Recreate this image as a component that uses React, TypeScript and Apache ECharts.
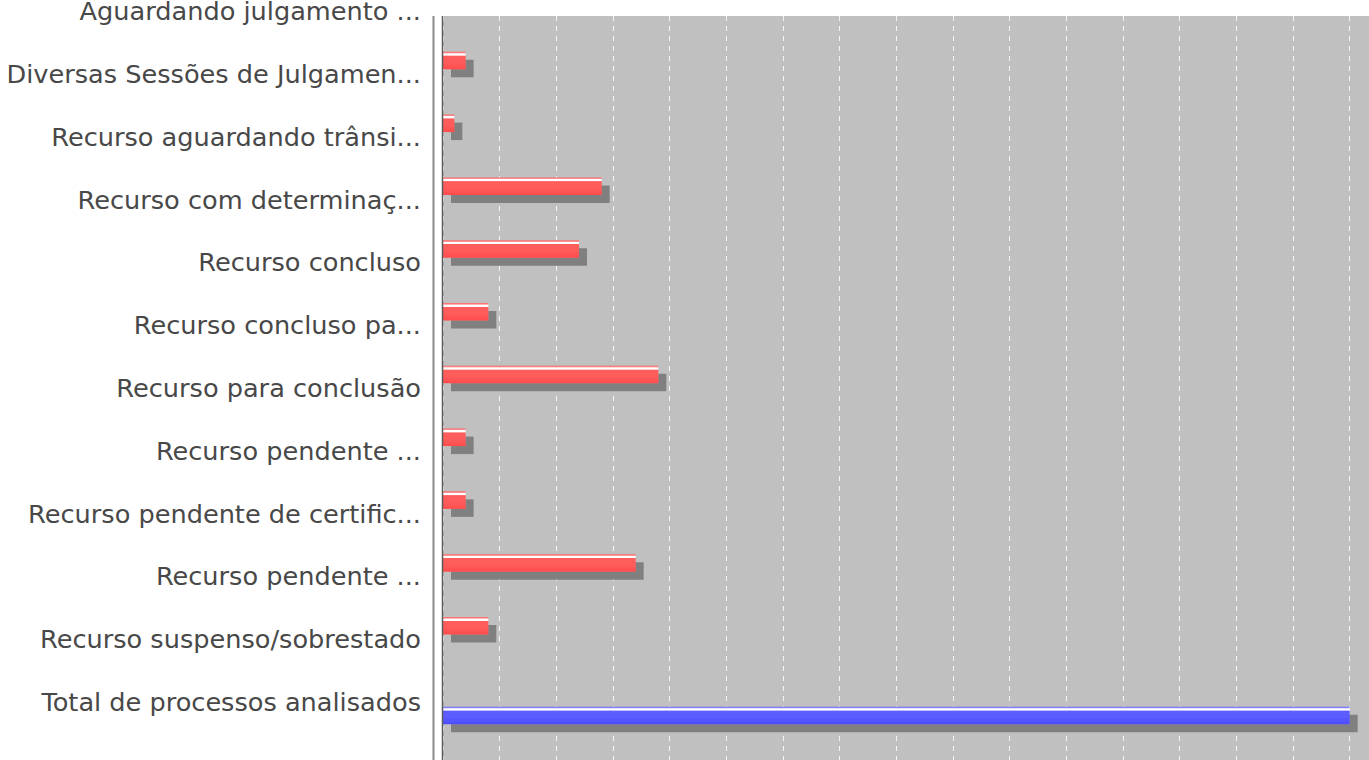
import React, { useEffect, useRef } from "react";
import * as echarts from "echarts";

const categories = [
  "Aguardando julgamento ...",
  "Diversas Sessões de Julgamen...",
  "Recurso aguardando trânsi...",
  "Recurso com determinaç...",
  "Recurso concluso",
  "Recurso concluso pa...",
  "Recurso para conclusão",
  "Recurso pendente ...",
  "Recurso pendente de certific...",
  "Recurso pendente ...",
  "Recurso suspenso/sobrestado",
  "Total de processos analisados",
];

const recursoValues: (number | null)[] = [1, 2, 1, 14, 12, 4, 19, 2, 2, 17, 4, null];
const totalValues: (number | null)[] = [null, null, null, null, null, null, null, null, null, null, null, 80];

const valueMax = 84;
const valueInterval = 5;

function grad(dark: string, mid: string, light: string) {
  return {
    type: "linear",
    x: 0,
    y: 0,
    x2: 0,
    y2: 1,
    colorStops: [
      { offset: 0, color: mid },
      { offset: 0.08, color: light },
      { offset: 0.11, color: "#ffffff" },
      { offset: 0.2, color: "#ffffff" },
      { offset: 0.24, color: mid },
      { offset: 0.6, color: mid },
      { offset: 1, color: dark },
    ],
  };
}

export default function App() {
  const ref = useRef<HTMLDivElement>(null);
  useEffect(() => {
    if (!ref.current) return;
    const chart = echarts.init(ref.current, null, { renderer: "svg" });
    const shadow = {
      shadowColor: "#808080",
      shadowOffsetX: 8,
      shadowOffsetY: 8,
      shadowBlur: 0,
    };
    chart.setOption({
      animation: false,
      backgroundColor: "#ffffff",
      grid: [
        {
          left: 443,
          right: -26,
          top: 16,
          bottom: -40,
          show: true,
          backgroundColor: "#c0c0c0",
          borderWidth: 0,
          containLabel: false,
          outerBoundsMode: "none",
        },
        {
          left: 443,
          right: -26,
          top: -20.2,
          height: 753.6,
          containLabel: false,
          outerBoundsMode: "none",
        },
      ],
      xAxis: [
        {
          gridIndex: 0,
          type: "value",
          min: 0,
          max: valueMax,
          interval: valueInterval,
          axisLabel: { show: false },
          axisLine: { show: false },
          axisTick: { show: false },
          splitLine: {
            show: true,
            lineStyle: { color: "#f4f4f4", width: 1, type: [5, 5] },
          },
        },
        {
          gridIndex: 1,
          type: "value",
          min: 0,
          max: valueMax,
          interval: valueInterval,
          axisLabel: { show: false },
          axisLine: { show: false },
          axisTick: { show: false },
          splitLine: { show: false },
        },
      ],
      yAxis: [
        {
          gridIndex: 0,
          type: "value",
          show: false,
          splitLine: { show: false },
        },
        {
          gridIndex: 1,
          type: "category",
          inverse: true,
          data: categories,
          axisLine: { show: false },
          axisTick: { show: false },
          splitLine: { show: false },
          axisLabel: {
            margin: 22,
            fontFamily: "DejaVu Sans",
            fontSize: 25.6,
            color: "#484848",
            interval: 0,
          },
        },
      ],
      series: [
        {
          name: "Recurso",
          type: "bar",
          xAxisIndex: 1,
          yAxisIndex: 1,
          data: recursoValues,
          barWidth: 17.5,
          barGap: "54%",
          itemStyle: { color: grad("#ff4c4c", "#ff5c5c", "#ff9a9a"), ...shadow },
        },
        {
          name: "Total",
          type: "bar",
          xAxisIndex: 1,
          yAxisIndex: 1,
          data: totalValues,
          barWidth: 17.5,
          barGap: "54%",
          itemStyle: { color: grad("#4c4cff", "#5c5cff", "#9a9aff"), ...shadow },
        },
      ],
      graphic: [
        {
          type: "rect",
          z: 100,
          shape: { x: 428, y: 0, width: 941, height: 16 },
          style: { fill: "#ffffff" },
        },
        {
          type: "line",
          z: 100,
          shape: { x1: 433.5, y1: 16, x2: 433.5, y2: 760 },
          style: { stroke: "#8a8a8a", lineWidth: 2 },
        },
        {
          type: "line",
          z: 100,
          shape: { x1: 442.5, y1: 16, x2: 442.5, y2: 760 },
          style: { stroke: "#5a5a5a", lineWidth: 1.5 },
        },
      ],
    });
    return () => chart.dispose();
  }, []);
  return (
    <div
      ref={ref}
      style={{ position: "absolute", left: 0, top: 0, width: 1369, height: 760 }}
    />
  );
}
